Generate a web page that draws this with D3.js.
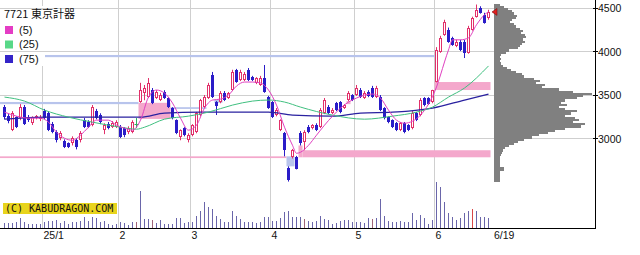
<!DOCTYPE html>
<html lang="ja">
<head>
<meta charset="UTF-8">
<script src="https://d3js.org/d3.v7.min.js"></script>
<title>7721</title>
<style>
  body { margin: 0; background: #fff; }
  svg text { font-family: "Liberation Sans", Arial, sans-serif; fill: #111; }
</style>
</head>
<body>
<div id="chart"></div>
<script>
// daily candles, 2024/12 -> 2025/6/19
const opens  = [3360,3255,3095,3245,3235,3360,3245,3175,3235,3220, 3315,3290,3165,3075,3005,2970,2945,2945,2980,2980,
                3210,3190,3155,3315,3270,3095,3165,3130,3130,3130, 3120,3075,3075,3170,3420,3525,3475,3555,3465,3440,
                3535,3465,3350,3210,3015,3120,2980,3040,3075,3270, 3360,3465,3730,3420,3420,3525,3465,3555,3790,3675,
                3675,3790,3705,3640,3615,3695,3475,3420,3270,3095, 3060,2660,2785,2785,3060,2955,3130,3120,3155,3130,
                3290,3360,3290,3405,3420,3350,3440,3500,3500,3555, 3465,3535,3580,3475,3475,3350,3245,3210,3175,3095,
                3175,3155,3120,3290,3270,3465,3465,3420,3650,3995, 4190,4250,4155,4065,4110,4110,3985,4250,4400,4505,
                4425,4390];
const highs  = [3385,3280,3315,3255,3395,3385,3270,3255,3270,3270, 3340,3315,3190,3095,3085,2990,2955,3025,3005,3085,
                3235,3210,3385,3340,3290,3175,3190,3200,3210,3155, 3130,3140,3210,3235,3640,3615,3695,3580,3555,3525,
                3555,3475,3360,3220,3105,3130,3060,3165,3305,3455, 3500,3640,3765,3430,3545,3545,3535,3790,3800,3790,
                3765,3810,3720,3705,3720,3845,3490,3430,3350,3220, 3075,2680,2880,2800,3085,3095,3155,3165,3175,3350,
                3465,3385,3350,3420,3430,3395,3545,3510,3615,3580, 3545,3555,3605,3605,3500,3360,3255,3220,3190,3190,
                3190,3165,3315,3305,3465,3475,3475,3560,4050,4180, 4365,4275,4170,4135,4135,4135,4295,4400,4540,4520,
                4445,4480];
const lows   = [3220,3175,3085,3120,3210,3155,3190,3155,3220,3200, 3220,3085,3060,2955,2980,2890,2890,2920,2875,2955,
                3120,3120,3140,3220,3165,3050,3105,3120,3120,3005, 3015,3050,3060,3120,3410,3440,3465,3395,3455,3430,
                3455,3350,3220,3050,2980,3025,2955,3025,3060,3255, 3350,3455,3465,3270,3405,3430,3455,3545,3640,3660,
                3660,3660,3660,3625,3605,3525,3340,3235,3255,3085, 2795,2505,2770,2645,2920,2865,3060,3105,3085,3120,
                3280,3280,3280,3315,3290,3340,3430,3430,3490,3465, 3455,3475,3465,3465,3315,3220,3175,3120,3085,3085,
                3060,3085,3105,3200,3255,3370,3385,3405,3645,3985, 4180,4100,4065,4050,4005,3925,3975,4240,4390,4435,
                4320,4365];
const closes = [3245,3200,3290,3130,3360,3165,3210,3245,3255,3245, 3235,3095,3075,2980,3060,2900,2900,3005,2900,3060,
                3130,3130,3360,3235,3190,3155,3120,3175,3190,3015, 3040,3120,3190,3170,3555,3580,3640,3405,3535,3500,
                3465,3360,3235,3060,3095,3040,3040,3155,3290,3440, 3475,3615,3475,3370,3525,3440,3525,3765,3650,3765,
                3740,3675,3675,3695,3695,3535,3350,3245,3325,3210, 2865,2520,2865,2655,2945,3075,3075,3155,3095,3325,
                3440,3290,3325,3325,3305,3385,3525,3440,3580,3475, 3525,3490,3475,3580,3325,3235,3190,3130,3095,3175,
                3075,3095,3290,3210,3440,3385,3395,3555,4020,4155, 4340,4110,4075,4110,4020,3985,4275,4390,4480,4445,
                4330,4455];
// volume (1000 shares)
const volumes = [50,50,50,60,100,60,40,40,40,40, 60,70,70,80,50,70,40,60,60,70,
                 110,70,110,100,60,70,40,30,40,60, 50,30,60,60,370,90,90,80,50,80,
                 40,40,40,100,100,50,60,60,120,170, 260,210,190,120,90,60,60,170,120,90,
                 60,60,60,50,60,110,110,70,70,100, 160,170,110,110,110,90,70,60,70,120,
                 90,80,40,50,70,80,80,60,60,60, 50,100,90,100,290,120,70,60,60,70,
                 60,60,150,80,130,100,40,80,460,410, 260,150,110,80,100,150,170,190,170,110,
                 110,100];
const volRed = [117];
const volBrown = [33, 37, 75, 92];

// moving averages (index -> price)
const ma5Idx = [0,3,6,9,11,13,15,17,19,21,23,26,28,30,32,34,36,38,40,42,44,46,48,50,52,54,56,58,60,62,64,66,68,70,72,73,74,76,78,80,82,84,86,88,90,92,94,96,98,100,102,104,106,108,109,110,111,112,114,116,118,120,121];
const ma5    = [3303,3257,3234,3234,3188,3073,3003,2980,3038,3130,3211,3211,3153,3119,3096,3211,3476,3557,3522,3407,3234,3096,3153,3349,3442,3453,3499,3603,3649,3649,3638,3557,3384,3130,2922,2830,2842,2922,3038,3153,3257,3349,3419,3465,3499,3511,3465,3326,3211,3176,3199,3269,3396,3592,3730,3880,4018,4134,4134,4157,4307,4423,4457];
const ma25Idx = [0,5,10,16,22,29,33,35,40,46,51,57,62,66,70,74,82,90,97,103,107,111,115,121];
const ma25    = [3476,3430,3326,3245,3188,3130,3107,3130,3222,3257,3303,3384,3430,3442,3419,3361,3269,3222,3257,3303,3361,3476,3580,3834];
const ma75Idx = [0,10,28,34,40,49,66,72,82,89,97,101,107,115,121];
const ma75    = [3222,3246,3246,3246,3292,3303,3303,3269,3257,3292,3303,3315,3349,3442,3511];

// open gaps (start index, end index, low, high, kind)
const gapStart = [-2, -2, -2, 42, 53, 34, 71, 74, 75, 86, 108];
const gapEnd   = [108, 34, 71, 51, 55, 42, 73, 75, 122, 87, 122];
const gapLow   = [3935, 3395, 2775, 3340, 3410, 3225, 2680, 2784, 2784, 3395, 3557];
const gapHigh  = [3960, 3420, 2795, 3360, 3445, 3410, 2795, 2920, 2865, 3430, 3649];
const gapKind  = ["dn","dn","up","dn","dn","up","dn","up","up","up","up"];

// price-by-volume, 25 yen bins from 4550 down
const profTop = 4550, profStep = 25;
const profVol = [6,10,14,18,20,23,22,18,16,20, 22,26,29,27,31,32,29,31,28,26,
                 24,15,12,7,6,7,6,7,9,13, 17,22,28,30,40,46,42,52,48,66,
                 80,99,90,84,72,68,74,66,72,84, 78,72,82,86,80,92,88,72,62,55,
                 45,38,30,24,20,15,11,9,8,7, 6,6,6,6,6,10,10,6,6,6,6,6];

const priceTicks = [3000, 3500, 4000, 4500];
const monthIdx = [10, 29, 47, 67, 88, 108];
const monthLabels = ["25/1", "2", "3", "4", "5", "6"];
const lastLabel = "6/19";

const width = 640, height = 255;
const plotRight = 595, plotBottom = 228;
const red = "#e2306a", blue = "#2a1cc8";

const x = d3.scaleLinear().domain([0, 121]).range([4.5, 488.5]);
const y = d3.scaleLinear().domain([3000, 4500]).range([138.5, 8]);
const yv = d3.scaleLinear().domain([0, 500]).range([plotBottom, 178]);
const xp = d3.scaleLinear().domain([0, 100]).range([494, 593]);

const svg = d3.select("#chart").append("svg")
    .attr("width", width)
    .attr("height", height);

// vertical grid
svg.append("g").selectAll("line").data(monthIdx).join("line")
    .attr("x1", d => Math.floor(x(d) - 2) + 0.5).attr("x2", d => Math.floor(x(d) - 2) + 0.5)
    .attr("y1", 0).attr("y2", plotBottom)
    .attr("stroke", "#cfcfcf");

// gaps
const gapG = svg.append("g");
gapStart.forEach((s, k) => {
    const x0 = Math.max(0, x(s) - 2), x1 = x(gapEnd[k]) - 2;
    gapG.append("rect")
        .attr("x", x0).attr("width", x1 - x0)
        .attr("y", y(gapHigh[k])).attr("height", Math.max(1.5, y(gapLow[k]) - y(gapHigh[k])))
        .attr("fill", gapKind[k] == "up" ? "#f4a8cc" : "#b8c4ec");
});

// legend background
svg.append("rect").attr("x", 0).attr("y", 6).attr("width", 80).attr("height", 15).attr("fill", "#fff");
svg.append("rect").attr("x", 0).attr("y", 21).attr("width", 45).attr("height", 45).attr("fill", "#fff");

// horizontal grid
svg.append("g").selectAll("line").data(priceTicks).join("line")
    .attr("x1", 0).attr("x2", plotRight)
    .attr("y1", d => Math.floor(y(d)) + 0.5).attr("y2", d => Math.floor(y(d)) + 0.5)
    .attr("stroke", "#cfcfcf");

// price-by-volume profile (rows snapped to whole pixels so they join up)
svg.append("g").attr("shape-rendering", "crispEdges")
    .selectAll("rect").data(profVol).join("rect")
    .attr("x", xp(0))
    .attr("y", (d, k) => Math.round(y(profTop - profStep * k)))
    .attr("width", d => Math.round(xp(d) - xp(0)))
    .attr("height", (d, k) => Math.round(y(profTop - profStep * (k + 1))) - Math.round(y(profTop - profStep * k)))
    .attr("fill", "#808080");

// volume
svg.append("g").selectAll("rect").data(volumes).join("rect")
    .attr("x", (d, i) => x(i) - 0.5).attr("width", 1)
    .attr("y", d => yv(d)).attr("height", d => plotBottom - yv(d))
    .attr("fill", (d, i) => volRed.includes(i) ? "#d84848" : volBrown.includes(i) ? "#a06478" : "#6a66aa");

// candles
const cg = svg.append("g");
closes.forEach((c, i) => {
    const o = opens[i], cx = x(i);
    const top = Math.round(y(Math.max(o, c))), bot = Math.round(y(Math.min(o, c)));
    const col = c > o ? red : c < o ? blue : "#30b060";
    cg.append("line")
        .attr("x1", cx).attr("x2", cx)
        .attr("y1", y(highs[i])).attr("y2", y(lows[i]))
        .attr("stroke", col);
    if (c > o) {
        cg.append("rect")
            .attr("x", cx - 1).attr("y", top + 0.5)
            .attr("width", 2).attr("height", Math.max(1, bot - top - 1))
            .attr("fill", "#fff").attr("stroke", col);
    } else if (c < o) {
        cg.append("rect")
            .attr("x", cx - 1.5).attr("y", top)
            .attr("width", 3).attr("height", Math.max(1, bot - top))
            .attr("fill", col);
    } else {
        cg.append("line")
            .attr("x1", cx - 2).attr("x2", cx + 2)
            .attr("y1", top + 0.5).attr("y2", top + 0.5)
            .attr("stroke", col);
    }
});

// moving averages
const maLine = (idx, vals, col, w) => {
    svg.append("path")
        .datum(idx.map((d, k) => [d, vals[k]]))
        .attr("fill", "none").attr("stroke", col).attr("stroke-width", w)
        .attr("d", d3.line().x(d => x(d[0])).y(d => y(d[1])).curve(d3.curveMonotoneX));
};
maLine(ma75Idx, ma75, "#2a22a0", 1.3);
maLine(ma25Idx, ma25, "#40c080", 1);
maLine(ma5Idx, ma5, "#e040c0", 1);

// last price marker
const lastY = y(closes[closes.length - 1]);
svg.append("path")
    .attr("d", `M${x(121) + 3.5},${lastY} L${x(121) + 8.5},${lastY - 3.5} L${x(121) + 8.5},${lastY + 3.5} Z`)
    .attr("fill", "#e02020").attr("stroke", "#801010").attr("stroke-width", 0.6);

// axes frame
svg.append("line").attr("x1", plotRight + 0.5).attr("x2", plotRight + 0.5)
    .attr("y1", 0).attr("y2", plotBottom + 1).attr("stroke", "#000");
svg.append("line").attr("x1", 0).attr("x2", plotRight + 1)
    .attr("y1", plotBottom + 0.5).attr("y2", plotBottom + 0.5).attr("stroke", "#000");

// right ticks and labels
svg.append("g").selectAll("line").data(priceTicks).join("line")
    .attr("x1", plotRight - 2).attr("x2", plotRight + 3)
    .attr("y1", d => Math.floor(y(d)) + 0.5).attr("y2", d => Math.floor(y(d)) + 0.5)
    .attr("stroke", "#000");
svg.append("g").selectAll("text").data(priceTicks).join("text")
    .attr("x", plotRight + 3).attr("y", d => y(d) + 4)
    .attr("font-size", 10.5)
    .text(d => d);

// date labels
svg.append("g").selectAll("text").data(monthIdx).join("text")
    .attr("x", d => x(d) - 1).attr("y", 238.5)
    .attr("font-size", 10.5)
    .text((d, k) => monthLabels[k]);
svg.append("text").attr("x", x(121) + 5.5).attr("y", 238.5)
    .attr("font-size", 10.5).text(lastLabel);

// title + legend
svg.append("text").attr("x", 4).attr("y", 18)
    .attr("font-size", 11)
    .style("font-family", '"Noto Sans CJK JP", sans-serif')
    .text("7721 東京計器");
const legCols = ["#e43cc4", "#58d888", "#3424c8"];
const legText = ["(5)", "(25)", "(75)"];
legText.forEach((t, k) => {
    svg.append("rect").attr("x", 5).attr("y", 26 + k * 14.5).attr("width", 8).attr("height", 8)
        .attr("fill", legCols[k]);
    svg.append("text").attr("x", 19).attr("y", 33.5 + k * 14.5)
        .attr("font-size", 11).text(t);
});

// watermark
svg.append("rect").attr("x", 3).attr("y", 203).attr("width", 114).attr("height", 11).attr("fill", "#e8d41c");
svg.append("text").attr("x", 5).attr("y", 212)
    .attr("font-size", 10)
    .style("font-family", '"DejaVu Sans Mono", monospace')
    .text("(C) KABUDRAGON.COM");
</script>
</body>
</html>
